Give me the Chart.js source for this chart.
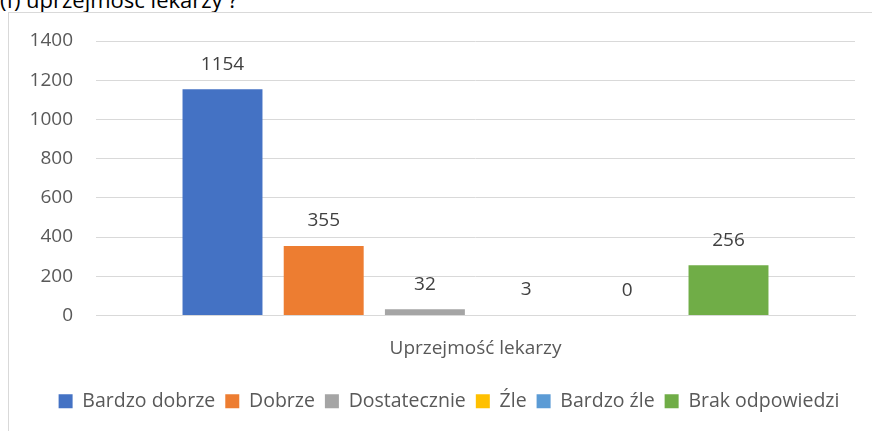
<!DOCTYPE html>
<html>
<head>
<meta charset="utf-8">
<script src="https://cdn.jsdelivr.net/npm/chart.js@4.4.0/dist/chart.umd.min.js"></script>
<style>
  html, body { margin: 0; padding: 0; background: #fff; overflow: hidden; }
  body { width: 872px; height: 431px; position: relative; font-family: 'Open Sans', sans-serif; }
  #title { position: absolute; left: 0; top: -13px; font-size: 22px; line-height: 24px; color: #000; white-space: nowrap; }
  #frame { position: absolute; left: 8px; top: 12px; width: 900px; height: 450px; border: 1px solid #d9d9d9; }
  #wrap { position: absolute; left: 0; top: 0; width: 890px; height: 431px; }
</style>
</head>
<body>
<div id="title">(f) uprzejmość lekarzy ?</div>
<div id="frame"></div>
<div id="wrap"><canvas id="myChart" width="890" height="431"></canvas></div>
<script>
const categories = ['Uprzejmość lekarzy'];
const seriesNames = ['Bardzo dobrze', 'Dobrze', 'Dostatecznie', 'Źle', 'Bardzo źle', 'Brak odpowiedzi'];
const seriesValues = [1154, 355, 32, 3, 0, 256];
const seriesColors = ['#4472C4', '#ED7D31', '#A5A5A5', '#FFC000', '#5B9BD5', '#70AD47'];
const yTicks = [0, 200, 400, 600, 800, 1000, 1200, 1400];

const textColor = '#595959';
const fontFamily = "'Open Sans', sans-serif";

// value labels above each bar
const barLabels = {
    id: 'barLabels',
    afterDatasetsDraw(chart) {
        const ctx = chart.ctx;
        ctx.save();
        ctx.font = '19px ' + fontFamily;
        ctx.fillStyle = '#404040';
        ctx.textAlign = 'center';
        ctx.textBaseline = 'middle';
        chart.data.datasets.forEach((ds, i) => {
            chart.getDatasetMeta(i).data.forEach((bar, j) => {
                ctx.fillText(String(ds.data[j]), bar.x, bar.y - 25);
            });
        });
        ctx.restore();
    }
};

const myChart = new Chart(document.getElementById('myChart'), {
    type: 'bar',
    data: {
        labels: categories,
        datasets: seriesNames.map((name, i) => ({
            label: name,
            data: [seriesValues[i]],
            backgroundColor: seriesColors[i],
            barPercentage: 0.79,
            categoryPercentage: 0.8
        }))
    },
    options: {
        responsive: false,
        animation: false,
        devicePixelRatio: 1,
        layout: { padding: { left: 8, right: 0, top: 41, bottom: 10 } },
        plugins: {
            legend: {
                position: 'bottom',
                labels: {
                    boxWidth: 14,
                    boxHeight: 14,
                    padding: 10,
                    color: textColor,
                    font: { family: fontFamily, size: 19.5 }
                }
            },
            tooltip: { enabled: false }
        },
        scales: {
            x: {
                grid: { display: false, drawTicks: false },
                border: { color: '#d9d9d9' },
                ticks: { color: textColor, padding: 22, font: { family: fontFamily, size: 19 } },
                afterFit(scale) { scale.height = 66; }
            },
            y: {
                min: 0,
                max: 1400,
                afterBuildTicks(scale) { scale.ticks = yTicks.map(v => ({ value: v })); },
                grid: { color: '#d9d9d9', drawTicks: false },
                border: { display: false },
                ticks: {
                    color: textColor,
                    padding: 23,
                    font: { family: fontFamily, size: 19 },
                    callback: v => String(v)
                },
                afterFit(scale) { scale.width = 88; }
            },
            // empty right axis: keeps plot right edge where the original frame continues
            y2: {
                position: 'right',
                min: 0,
                max: 1400,
                grid: { display: false },
                border: { display: false },
                ticks: { display: false },
                afterFit(scale) { scale.width = 35; }
            }
        }
    },
    plugins: [barLabels]
});
</script>
</body>
</html>
